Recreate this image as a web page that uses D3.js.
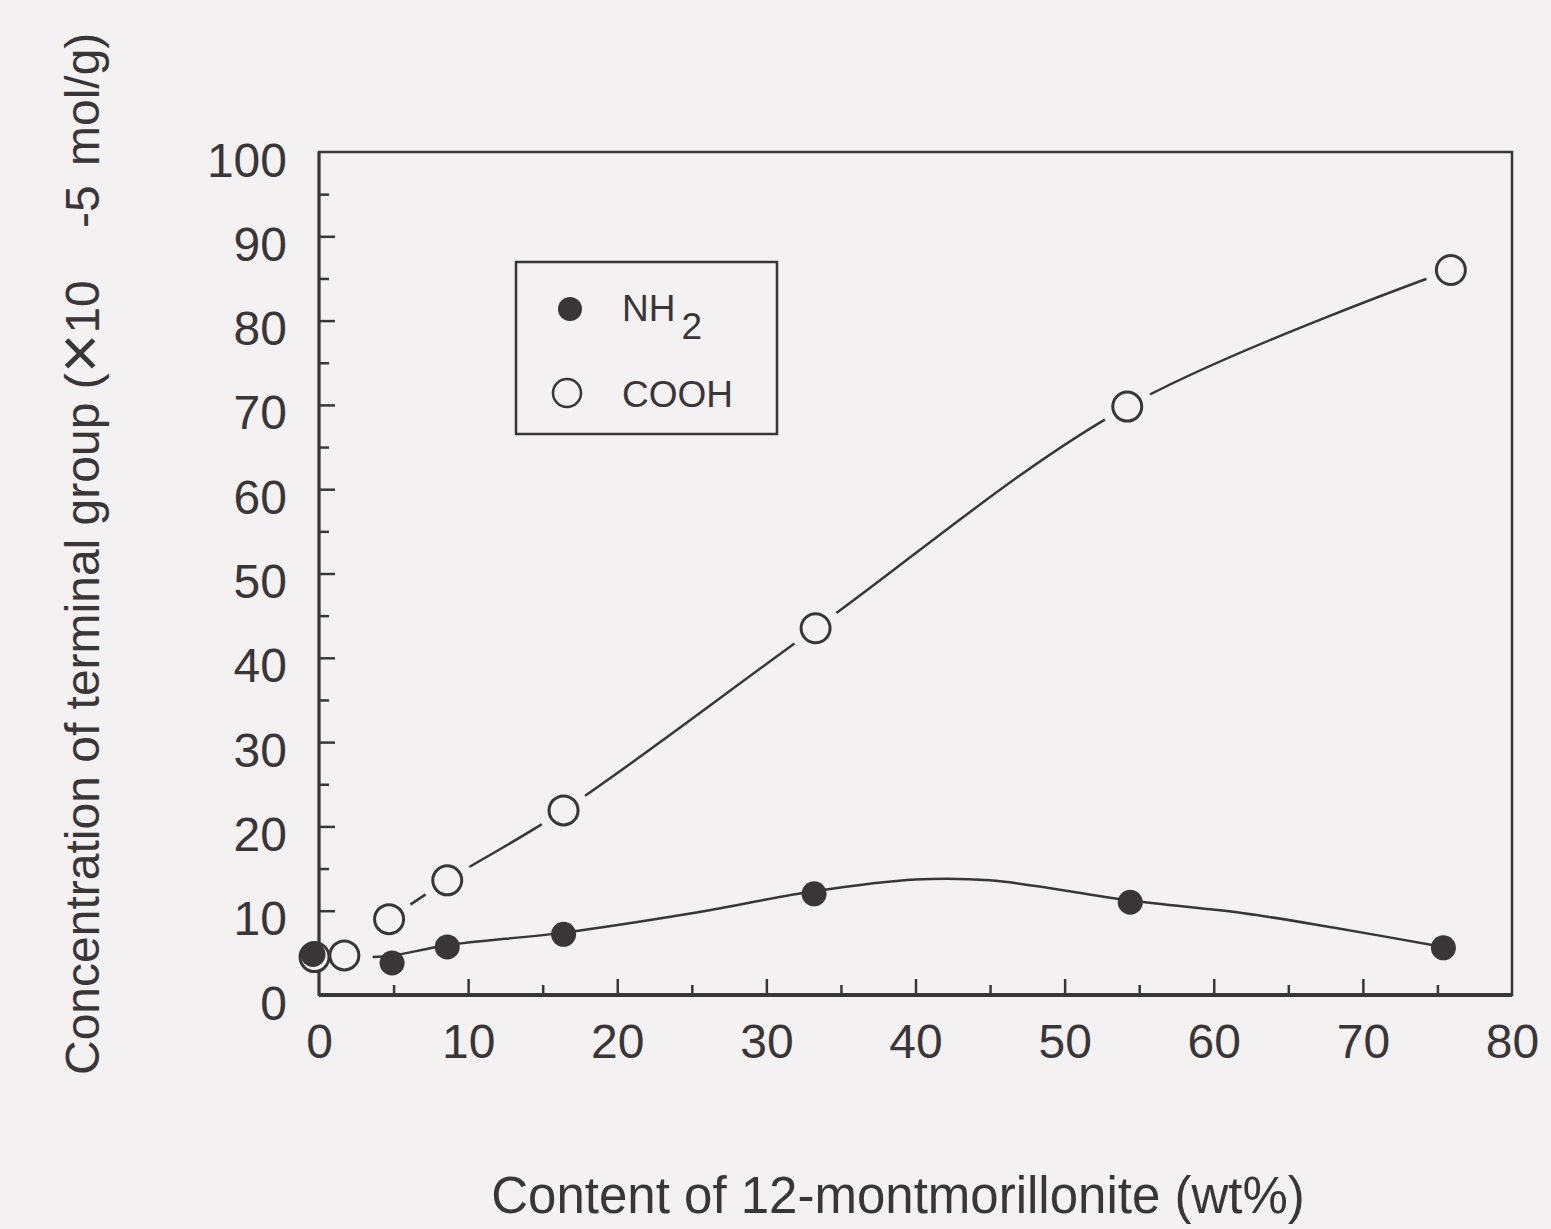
<!DOCTYPE html>
<html lang="en">
	<head>
		<meta charset="utf-8">
		<title>Concentration of terminal group vs 12-montmorillonite content</title>
		<script src="https://d3js.org/d3.v7.min.js"></script>
		<style type="text/css">
			body {
				margin: 0;
				background: #f3f1f2;
			}
			text {
				font-family: "Liberation Sans", Arial, sans-serif;
				fill: #3a3536;
			}
		</style>
	</head>
	<body>
		<script type="text/javascript">
			// Width and height
			var w = 1551;
			var h = 1229;
			var margin = {top: 152, right: 39, bottom: 234, left: 319};
			var ink = "#3a3536";
			var paper = "#f3f1f2";

			// Data: [content wt%, concentration]
			var nh2Points = [[-0.4, 4.8], [4.9, 3.8], [8.6, 5.7], [16.4, 7.2], [33.2, 12.0], [54.4, 11.0], [75.4, 5.6]];
			var coohPoints = [[-0.3, 4.5], [1.7, 4.7], [4.7, 9.0], [8.6, 13.6], [16.4, 21.9], [33.3, 43.5], [54.2, 69.8], [75.9, 86.0]];
			// hand drawn guide curve through the NH2 points
			var nh2Curve = [[3.6, 4.5], [5, 4.7], [8.6, 5.9], [16.4, 7.4], [25, 9.7], [33.2, 12.3], [40, 13.7], [45, 13.6], [54.4, 11.2], [62, 9.7], [68, 8.0], [75.4, 5.7]];
			// guide line for COOH starts at the third point
			var coohLineFrom = 2;

			var xLabels = [0, 10, 20, 30, 40, 50, 60, 70, 80];
			var yLabels = [0, 10, 20, 30, 40, 50, 60, 70, 80, 90, 100];
			var xMajor = [10, 20, 30, 40, 50, 60, 70];
			var xMinor = [5, 15, 25, 35, 45, 55, 65, 75];
			var yMajor = [10, 20, 30, 40, 50, 60, 70, 80, 90];
			var yMinor = [5, 15, 25, 35, 45, 55, 65, 75, 85, 95];
			var legendNames = ["NH", "COOH"];

			// Scales
			var xScale = d3.scaleLinear()
				.domain([0, 80])
				.range([margin.left, w - margin.right]);

			var yScale = d3.scaleLinear()
				.domain([0, 100])
				.range([h - margin.bottom, margin.top]);

			// Create SVG
			var svg = d3.select("body")
						.append("svg")
						.attr("width", w)
						.attr("height", h);

			svg.append("rect")
				.attr("width", w)
				.attr("height", h)
				.attr("fill", paper);

			// Frame
			svg.append("rect")
				.attr("x", xScale(0))
				.attr("y", yScale(100))
				.attr("width", xScale(80) - xScale(0))
				.attr("height", yScale(0) - yScale(100))
				.attr("fill", "none")
				.attr("stroke", ink)
				.attr("stroke-width", 2.5);

			svg.append("line")
				.attr("x1", xScale(0))
				.attr("x2", xScale(80))
				.attr("y1", yScale(0))
				.attr("y2", yScale(0))
				.attr("stroke", ink)
				.attr("stroke-width", 4);

			svg.append("line")
				.attr("x1", xScale(0))
				.attr("x2", xScale(0))
				.attr("y1", yScale(0))
				.attr("y2", yScale(100))
				.attr("stroke", ink)
				.attr("stroke-width", 3);

			// Inward ticks
			function tickAxis(axis, values, size) {
				return axis.tickValues(values)
					.tickSizeInner(-size)
					.tickSizeOuter(0)
					.tickFormat("");
			}

			var xT = yScale(0);
			svg.append("g").attr("transform", "translate(0," + xT + ")").call(tickAxis(d3.axisBottom(xScale), xMajor, 16));
			svg.append("g").attr("transform", "translate(0," + xT + ")").call(tickAxis(d3.axisBottom(xScale), xMinor, 10));
			svg.append("g").attr("transform", "translate(" + xScale(0) + ",0)").call(tickAxis(d3.axisLeft(yScale), yMajor, 16));
			svg.append("g").attr("transform", "translate(" + xScale(0) + ",0)").call(tickAxis(d3.axisLeft(yScale), yMinor, 10));

			// Tick labels
			var xAxis = svg.append("g")
				.attr("transform", "translate(0," + xT + ")")
				.call(d3.axisBottom(xScale).tickValues(xLabels).tickSize(0).tickPadding(29));

			var yAxis = svg.append("g")
				.attr("transform", "translate(" + xScale(0) + ",0)")
				.call(d3.axisLeft(yScale).tickValues(yLabels).tickSize(0).tickPadding(32));

			svg.selectAll(".domain").remove();
			svg.selectAll(".tick line").attr("stroke", ink).attr("stroke-width", 2.5);
			svg.selectAll(".tick text")
				.attr("font-family", "Liberation Sans, Arial, sans-serif")
				.attr("font-size", 48)
				.attr("fill", ink);
			yAxis.selectAll(".tick text").attr("dy", "0.5em");

			// Axis titles
			svg.append("text")
				.attr("x", 898)
				.attr("y", 1213)
				.attr("text-anchor", "middle")
				.attr("font-size", 51)
				.text("Content of 12-montmorillonite (wt%)");

			var yTitle = svg.append("text")
				.attr("transform", "translate(99,1075) rotate(-90)")
				.attr("font-size", 48);
			yTitle.append("tspan").text("Concentration of terminal group (");
			yTitle.append("tspan").attr("font-size", 68).attr("dy", 4).text("×");
			yTitle.append("tspan").attr("dy", -4).text("10");

			svg.append("text")
				.attr("transform", "translate(99,228) rotate(-90)")
				.attr("font-size", 48)
				.text("-5");

			svg.append("text")
				.attr("transform", "translate(99,166) rotate(-90)")
				.attr("font-size", 48)
				.text("mol/g)");

			// COOH guide line with gaps around the markers
			var line = d3.line()
				.x(function(d) { return xScale(d[0]); })
				.y(function(d) { return yScale(d[1]); })
				.curve(d3.curveCatmullRom.alpha(0.5));

			var coohLine = coohPoints.slice(coohLineFrom);

			svg.append("path")
				.datum(coohLine)
				.attr("d", line)
				.attr("fill", "none")
				.attr("stroke", ink)
				.attr("stroke-width", 2.5);

			svg.selectAll("circle.gap")
				.data(coohLine)
				.enter()
				.append("circle")
				.attr("class", "gap")
				.attr("cx", function(d) { return xScale(d[0]); })
				.attr("cy", function(d) { return yScale(d[1]); })
				.attr("r", 26)
				.attr("fill", paper);

			// NH2 guide curve
			svg.append("path")
				.datum(nh2Curve)
				.attr("d", line)
				.attr("fill", "none")
				.attr("stroke", ink)
				.attr("stroke-width", 2.5);

			// Markers
			svg.selectAll("circle.cooh")
				.data(coohPoints)
				.enter()
				.append("circle")
				.attr("class", "cooh")
				.attr("cx", function(d) { return xScale(d[0]); })
				.attr("cy", function(d) { return yScale(d[1]); })
				.attr("r", 14.5)
				.attr("fill", paper)
				.attr("stroke", ink)
				.attr("stroke-width", 3);

			svg.selectAll("circle.nh2")
				.data(nh2Points)
				.enter()
				.append("circle")
				.attr("class", "nh2")
				.attr("cx", function(d) { return xScale(d[0]); })
				.attr("cy", function(d) { return yScale(d[1]); })
				.attr("r", 12.5)
				.attr("fill", ink);

			// Legend
			var legend = svg.append("g")
				.attr("transform", "translate(516,262)");

			legend.append("rect")
				.attr("width", 261)
				.attr("height", 172)
				.attr("fill", "none")
				.attr("stroke", ink)
				.attr("stroke-width", 2.5);

			legend.append("circle")
				.attr("cx", 54)
				.attr("cy", 47)
				.attr("r", 12)
				.attr("fill", ink);

			legend.append("circle")
				.attr("cx", 51)
				.attr("cy", 131)
				.attr("r", 14)
				.attr("fill", "none")
				.attr("stroke", ink)
				.attr("stroke-width", 2.5);

			var nhText = legend.append("text")
				.attr("x", 106)
				.attr("y", 59)
				.attr("font-size", 37);
			nhText.append("tspan").text(legendNames[0]);
			nhText.append("tspan").attr("dx", 6).attr("dy", 18).text("2");

			legend.append("text")
				.attr("x", 106)
				.attr("y", 145)
				.attr("font-size", 37)
				.text(legendNames[1]);
		</script>
	</body>
</html>
